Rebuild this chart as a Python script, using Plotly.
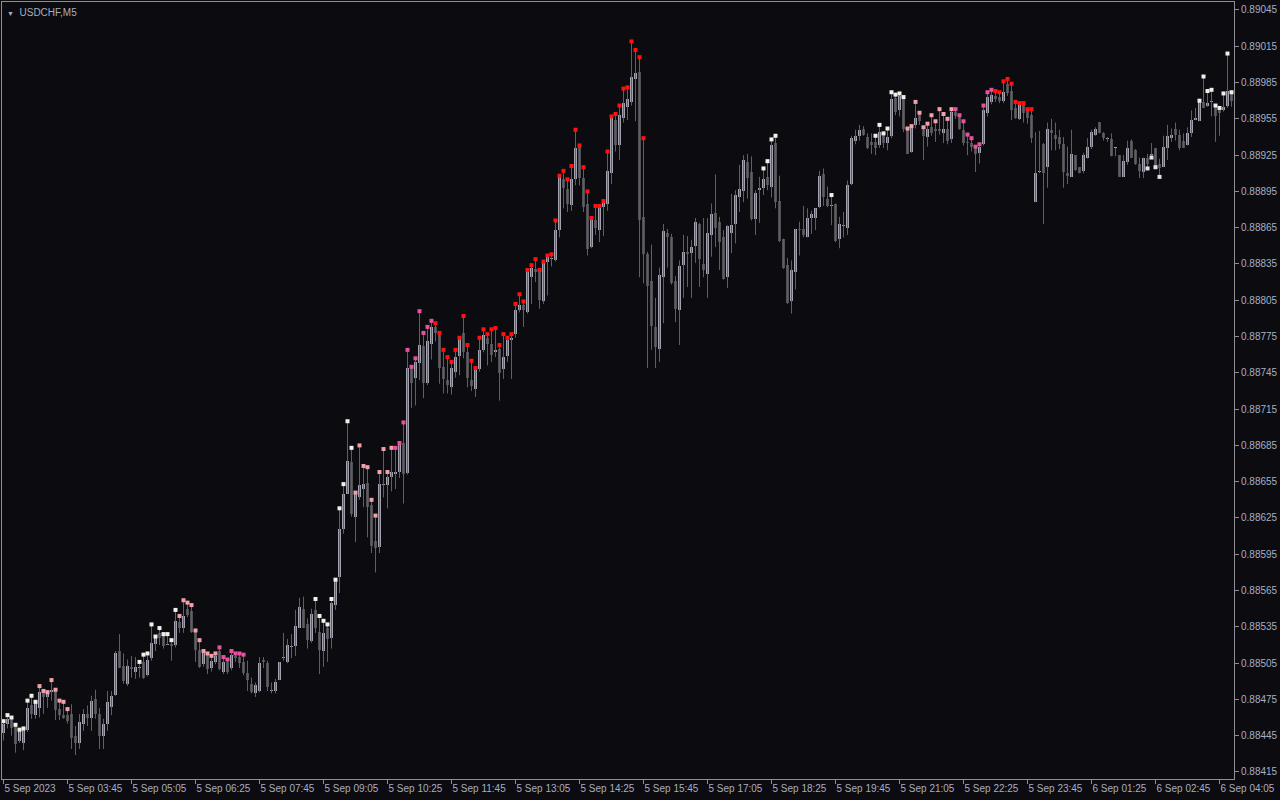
import plotly.graph_objects as go

# USDCHF M5 candles, prices in points (1 point = 0.00001)
opens = [
88447,88455,88458,88453,88441,88439,88450,88470,88462,88468,88481,88477,88481,88482,88467,88462,88462,88463,88445,88439,
88455,88463,88460,88475,88463,88445,88455,88469,88479,88515,88503,88488,88502,88498,88501,88506,88495,88509,88521,88530,
88528,88520,88521,88520,88539,88534,88550,88548,88531,88516,88504,88512,88501,88506,88515,88498,88506,88501,88511,88510,
88506,88497,88488,88480,88482,88508,88505,88482,88482,88491,88509,88506,88518,88519,88534,88550,88537,88523,88549,88531,
88515,88534,88526,88553,88576,88616,88645,88671,88626,88642,88649,88654,88636,88606,88601,88652,88652,88659,88661,88663,
88687,88662,88749,88741,88753,88767,88737,88769,88783,88778,88750,88739,88733,88746,88759,88778,88762,88739,88732,88748,
88764,88774,88769,88762,88765,88748,88759,88772,88777,88797,88801,88795,88824,88831,88828,88804,88837,88839,88838,88863,
88905,88897,88884,88905,88932,88906,88885,88849,88871,88863,88882,88885,88910,88954,88933,88956,88965,88969,88988,88994,
88874,88843,88821,88783,88765,88824,88861,88857,88821,88797,88834,88845,88844,88850,88868,88835,88827,88859,88877,88870,
88857,88824,88861,88868,88890,88895,88919,88911,88872,88896,88898,88907,88899,88935,88887,88856,88834,88804,88828,88864,
88864,88857,88873,88873,88882,88909,88889,88883,88885,88856,88866,88865,88901,88937,88941,88947,88940,88936,88936,88933,
88942,88935,88941,88972,88962,88972,88946,88928,88950,88958,88946,88940,88948,88947,88947,88943,88947,88938,88961,88957,
88946,88936,88935,88931,88927,88934,88960,88969,88974,88973,88970,88984,88978,88964,88955,88967,88962,88958,88886,88911,
88934,88915,88946,88942,88940,88934,88910,88907,88925,88915,88912,88923,88932,88942,88952,88943,88938,88938,88931,88925,
88907,88919,88937,88929,88918,88911,88923,88925,88931,88918,88915,88931,88939,88947,88942,88937,88933,88943,88954,88953,
88969,88966,88969,88965,88962,88962,88966,88976]

highs = [
88457,88462,88460,88454,88450,88451,88474,88478,88473,88486,88482,88481,88491,88483,88474,88473,88467,88471,88453,88463,
88467,88470,88478,88483,88468,88459,88482,88482,88515,88529,88513,88508,88511,88510,88506,88512,88513,88537,88527,88534,
88529,88529,88524,88549,88544,88557,88555,88553,88532,88524,88515,88513,88511,88513,88518,88510,88508,88515,88513,88513,
88512,88507,88493,88489,88510,88510,88507,88489,88492,88506,88530,88525,88529,88549,88559,88560,88542,88550,88558,88544,
88540,88537,88558,88574,88633,88653,88705,88683,88646,88685,88668,88667,88640,88627,88663,88682,88663,88683,88683,88687,
88704,88764,88750,88757,88796,88778,88783,88788,88786,88778,88764,88758,88754,88764,88774,88792,88768,88755,88749,88774,
88781,88777,88781,88782,88768,88777,88774,88777,88802,88810,88804,88830,88834,88839,88830,88837,88842,88843,88871,88908,
88912,88905,88916,88946,88933,88915,88895,88873,88883,88883,88887,88928,88957,88959,88966,88980,88981,89019,89012,89006,
88939,88845,88851,88807,88832,88868,88864,88860,88825,88838,88859,88858,88855,88873,88869,88873,88873,88885,88909,88874,
88863,88867,88893,88896,88917,88925,88926,88924,88896,88907,88914,88920,88938,88941,88908,88856,88840,88838,88864,88870,
88883,88881,88879,88881,88912,88914,88899,88892,88885,88874,88878,88904,88941,88946,88950,88949,88943,88943,88941,88950,
88943,88947,88977,88975,88976,88973,88947,88949,88969,88960,88948,88951,88958,88953,88963,88959,88955,88963,88963,88958,
88953,88942,88939,88932,88934,88966,88977,88979,88978,88977,88986,88988,88984,88969,88968,88968,88963,88963,88944,88945,
88935,88952,88955,88952,88946,88940,88932,88946,88925,88915,88927,88939,88946,88948,88952,88944,88940,88943,88931,88925,
88925,88937,88938,88930,88923,88923,88926,88935,88931,88922,88941,88950,88947,88952,88946,88943,88948,88962,88964,88970,
88990,88978,88979,88966,88964,88976,89009,88977]

lows = [
88441,88451,88445,88431,88439,88433,88448,88459,88459,88460,88463,88468,88474,88458,88458,88459,88455,88434,88429,88434,
88449,88453,88449,88459,88434,88434,88449,88462,88478,88501,88488,88486,88493,88492,88493,88492,88494,88507,88515,88520,
88517,88520,88507,88518,88530,88530,88543,88530,88506,88501,88502,88496,88498,88504,88499,88496,88496,88499,88506,88501,
88495,88482,88480,88477,88481,88501,88482,88480,88480,88491,88507,88505,88509,88511,88534,88534,88517,88522,88530,88496,
88502,88506,88517,88549,88563,88612,88645,88626,88605,88640,88634,88609,88596,88580,88596,88642,88633,88647,88649,88658,
88637,88661,88716,88718,88739,88724,88735,88756,88771,88736,88728,88728,88727,88741,88743,88757,88733,88730,88725,88746,
88762,88751,88754,88758,88722,88740,88754,88740,88774,88795,88783,88794,88802,88820,88798,88802,88809,88833,88837,88857,
88881,88878,88879,88900,88900,88878,88842,88848,88859,88853,88858,88879,88901,88928,88921,88952,88954,88966,88953,88824,
88819,88749,88764,88749,88754,88786,88832,88818,88787,88768,88807,88816,88807,88836,88816,88824,88807,88841,88849,88830,
88822,88815,88844,88852,88878,88886,88889,88871,88859,88869,88892,88896,88890,88881,88853,88831,88802,88794,88814,88842,
88857,88857,88860,88863,88881,88883,88882,88867,88853,88848,88857,88859,88900,88934,88937,88941,88930,88926,88925,88931,
88931,88929,88939,88958,88957,88944,88926,88927,88947,88950,88921,88932,88941,88936,88942,88935,88934,88935,88955,88946,
88933,88925,88928,88911,88918,88933,88957,88967,88969,88968,88968,88974,88954,88955,88954,88952,88951,88935,88886,88910,
88868,88898,88929,88929,88930,88898,88901,88907,88912,88910,88910,88922,88930,88941,88943,88937,88936,88924,88924,88907,
88907,88917,88923,88917,88906,88906,88914,88923,88915,88907,88915,88921,88936,88937,88929,88931,88933,88940,88954,88953,
88964,88965,88957,88936,88941,88961,88964,88965]

closes = [
88455,88459,88451,88438,88449,88450,88468,88463,88472,88481,88477,88480,88483,88466,88462,88460,88457,88443,88439,88456,
88463,88460,88474,88463,88445,88455,88473,88478,88513,88501,88490,88503,88500,88502,88502,88493,88508,88522,88526,88526,
88519,88520,88519,88540,88534,88544,88545,88531,88516,88502,88513,88500,88507,88511,88500,88506,88498,88512,88509,88505,
88497,88491,88481,88487,88505,88506,88485,88483,88489,88506,88510,88520,88518,88536,88551,88534,88524,88546,88534,88516,
88530,88525,88555,88573,88616,88645,88672,88628,88645,88652,88653,88634,88602,88600,88653,88653,88659,88663,88663,88687,
88661,88749,88737,88754,88768,88737,88771,88783,88778,88749,88740,88735,88749,88758,88773,88762,88741,88734,88748,88764,
88776,88769,88760,88764,88745,88758,88772,88774,88797,88801,88797,88828,88832,88828,88805,88836,88842,88840,88863,88907,
88898,88885,88905,88931,88906,88882,88847,88871,88865,88882,88886,88912,88956,88933,88958,88968,88971,88990,88993,88871,
88843,88817,88784,88766,88826,88862,88857,88819,88798,88833,88845,88843,88849,88870,88839,88830,88861,88876,88865,88853,
88823,88866,88867,88892,88897,88921,88906,88872,88894,88898,88905,88900,88933,88886,88854,88832,88803,88830,88864,88863,
88859,88873,88876,88881,88908,88890,88883,88883,88854,88868,88867,88900,88939,88941,88946,88942,88931,88933,88931,88944,
88935,88940,88971,88961,88974,88947,88926,88948,88956,88953,88941,88947,88943,88945,88945,88947,88937,88961,88957,88947,
88935,88935,88932,88926,88932,88962,88973,88975,88971,88970,88977,88976,88962,88956,88967,88960,88956,88939,88910,88911,
88910,88947,88943,88938,88934,88911,88908,88926,88913,88910,88925,88932,88944,88947,88943,88939,88938,88924,88931,88907,
88920,88931,88923,88918,88912,88923,88918,88926,88916,88914,88932,88941,88942,88942,88931,88931,88943,88954,88956,88969,
88964,88968,88969,88957,88960,88965,88978,88970]

# indicator marks, run-length: (count, code); w/p/m/r = dot on high, L = dot on low, . = none
signal_runs = [(9, "w"), (8, "p"), (17, "."), (10, "w"), (10, "p"), (7, "m"), (17, "."),
               (10, "w"), (10, "p"), (10, "m"), (53, "r"), (29, "."), (4, "w"), (13, "."),
               (1, "w"), (10, "."), (8, "w"), (12, "p"), (10, "m"), (10, "r"), (28, "."),
               (4, "L"), (9, "."), (9, "w")]

tick_idx = [0, 16, 32, 48, 64, 80, 96, 112, 128, 144, 160, 176, 192, 208, 224, 240, 256, 272, 288, 304]
tick_text = ["5 Sep 2023", "5 Sep 03:45", "5 Sep 05:05", "5 Sep 06:25", "5 Sep 07:45",
             "5 Sep 09:05", "5 Sep 10:25", "5 Sep 11:45", "5 Sep 13:05", "5 Sep 14:25",
             "5 Sep 15:45", "5 Sep 17:05", "5 Sep 18:25", "5 Sep 19:45", "5 Sep 21:05",
             "5 Sep 22:25", "5 Sep 23:45", "6 Sep 01:25", "6 Sep 02:45", "6 Sep 04:05"]
price_ticks = [0.88415, 0.88445, 0.88475, 0.88505, 0.88535, 0.88565, 0.88595, 0.88625,
               0.88655, 0.88685, 0.88715, 0.88745, 0.88775, 0.88805, 0.88835, 0.88865,
               0.88895, 0.88925, 0.88955, 0.88985, 0.89015, 0.89045]

PT = 1e-5
O = [v * PT for v in opens]
H = [v * PT for v in highs]
L = [v * PT for v in lows]
C = [v * PT for v in closes]
n = len(O)
idx = list(range(n))

signal = "".join(code * cnt for cnt, code in signal_runs)

BG = "#0b0b10"
BULL = "#a3a3af"
BEAR = "#4f4f54"
WICK = "#5f5f66"
FRAME = "#8e8e94"
TXT = "#a6afc2"

fig = go.Figure()

# wicks
wx, wy = [], []
for i in idx:
    wx += [i, i, None]
    wy += [L[i], H[i], None]
fig.add_trace(go.Scatter(x=wx, y=wy, mode="lines", line=dict(color=WICK, width=1),
                         hoverinfo="skip", showlegend=False))

# bodies
base = [min(O[i], C[i]) for i in idx]
height = [max(abs(C[i] - O[i]), 0.9 * PT) for i in idx]
colors = [BULL if C[i] >= O[i] else BEAR for i in idx]
fig.add_trace(go.Bar(x=idx, y=height, base=base, width=0.75,
                     marker=dict(color=colors, line=dict(width=0)),
                     showlegend=False, hoverinfo="skip"))

# indicator dots
dot_colors = {"w": "#f3efe9", "p": "#f2a0aa", "m": "#e8529c", "r": "#ff1212", "L": "#dbe3f2"}
for code, col in dot_colors.items():
    xs = [i for i in idx if signal[i] == code]
    ys = [L[i] if code == "L" else H[i] for i in xs]
    fig.add_trace(go.Scatter(x=xs, y=ys, mode="markers",
                             marker=dict(symbol="square", size=4, color=col, line=dict(width=0)),
                             showlegend=False, hoverinfo="skip"))

font = dict(family="Liberation Sans, Arial, sans-serif", size=10, color=TXT)

fig.update_layout(
    width=1280, height=800,
    margin=dict(l=2, r=46, t=2, b=21, pad=0),
    paper_bgcolor=BG, plot_bgcolor=BG,
    font=font, bargap=0, showlegend=False,
    xaxis=dict(range=[-0.375, 307.625], tickvals=tick_idx, ticktext=tick_text,
               ticks="outside", ticklen=4, tickcolor=FRAME, tickwidth=1,
               ticklabelposition="outside right",
               showline=True, mirror=True, linecolor=FRAME, linewidth=1,
               showgrid=False, zeroline=False, tickfont=font, fixedrange=True),
    yaxis=dict(range=[0.884092, 0.890516], side="right", tickvals=price_ticks,
               ticktext=[f"{v:.5f}" for v in price_ticks],
               ticks="outside", ticklen=4, tickcolor=FRAME, tickwidth=1,
               showline=True, mirror=True, linecolor=FRAME, linewidth=1,
               showgrid=False, zeroline=False, tickfont=font, fixedrange=True),
    annotations=[dict(xref="paper", yref="paper", x=0, y=1, xanchor="left", yanchor="top",
                      xshift=3, yshift=-3, showarrow=False,
                      text="<span style='font-size:7px'>▼</span>  USDCHF,M5",
                      font=font)],
)

fig.write_html(
    "out.html",
    config={"displayModeBar": False, "staticPlot": True},
    post_script="document.body.style.margin='0';document.body.style.background='#0b0b10';",
)
